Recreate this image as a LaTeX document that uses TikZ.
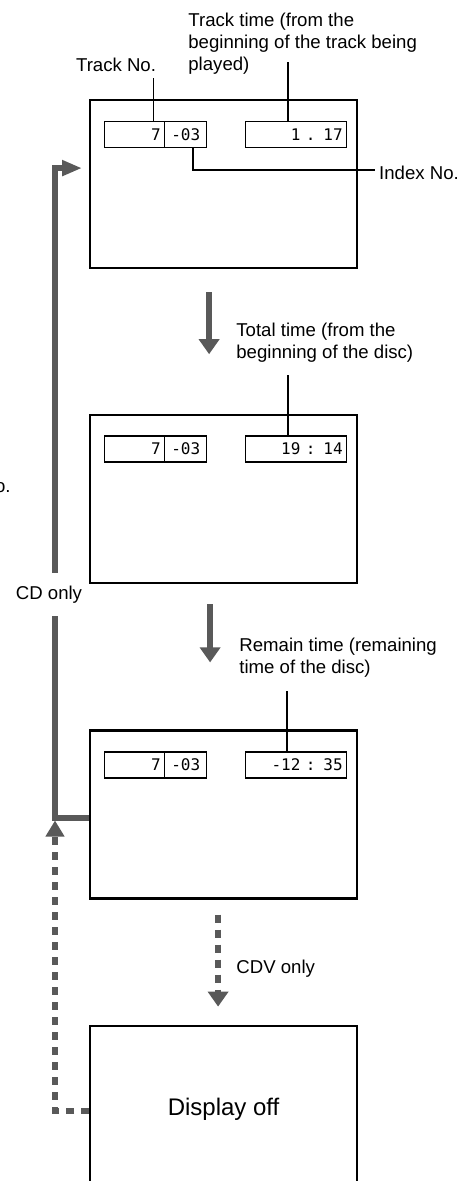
\documentclass[tikz,border=0pt]{standalone}
\usepackage{fontspec}
\setmainfont{Liberation Sans}
\newfontfamily\lcdfont{DejaVu Sans Mono}
\usetikzlibrary{arrows.meta,positioning}

\begin{document}
\begin{tikzpicture}[x=1pt, y=1pt,
  screen/.style={draw, line width=1.1pt, minimum width=133.5pt, minimum height=84pt, inner sep=0pt, font=\fontsize{12}{14}\selectfont},
  lcd/.style={draw, line width=0.7pt, minimum height=13pt, inner xsep=2pt, inner ysep=0pt, font=\lcdfont\fontsize{8}{9}\selectfont},
  note/.style={font=\fontsize{9.3}{11}\selectfont, align=left, inner sep=0pt},
  lead/.style={line width=0.9pt},
  flow/.style={line width=3pt, black!65, -{Triangle[length=7.5pt, width=10pt]}},
  dflow/.style={flow, dash pattern=on 4pt off 3.5pt},
  back/.style={line width=3pt, black!65, -{Triangle[length=10pt, width=7.5pt]}},
  dback/.style={line width=3pt, black!65, dash pattern=on 4pt off 3.5pt, -{Triangle[length=8pt, width=9pt]}}
]
\useasboundingbox (0,0) rectangle (230.5,-590.5);
\clip (0,0) rectangle (230.5,-590.5);

% the four screens
\node[screen, anchor=north west] (s1) at (44.5,-49.5) {};
\node[screen, below=72.5pt of s1] (s2) {};
\node[screen, below=72.5pt of s2] (s3) {};
\node[screen, below=62.5pt of s3] (s4) {Display off};

% display fields
\node[lcd, text width=26pt, align=right, anchor=north west] (trk1) at ([shift={(7.5,-11)}]s1.north west) {7};
\node[lcd, text width=17pt, align=center, right=-0.7pt of trk1] (idx1) {-03};
\node[lcd, text width=46.5pt, align=right, anchor=north west] (tim1) at ([shift={(78,-11)}]s1.north west) {1 . 17};
\node[lcd, text width=26pt, align=right, anchor=north west] (trk2) at ([shift={(7.5,-10.5)}]s2.north west) {7};
\node[lcd, text width=17pt, align=center, right=-0.7pt of trk2] (idx2) {-03};
\node[lcd, text width=46.5pt, align=right, anchor=north west] (tim2) at ([shift={(78,-10.5)}]s2.north west) {19 : 14};
\node[lcd, text width=26pt, align=right, anchor=north west] (trk3) at ([shift={(7.5,-11)}]s3.north west) {7};
\node[lcd, text width=17pt, align=center, right=-0.7pt of trk3] (idx3) {-03};
\node[lcd, text width=46.5pt, align=right, anchor=north west] (tim3) at ([shift={(78,-11)}]s3.north west) {-12 : 35};

% labels
\node[note, anchor=base east] (trkno) at ([shift={(-4.5,24.5)}]trk1.north east) {Track No.};
\node[note, anchor=north west] (trktime) at ([shift={(49.5,43)}]s1.north west) {Track time (from the\\ beginning of the track being\\ played)};
\node[note, anchor=west] (idxno) at ([shift={(10.3,-37)}]s1.north east) {Index No.};
\node[note, anchor=north west] (tottime) at ([shift={(73.5,46)}]s2.north west) {Total time (from the\\ beginning of the disc)};
\node[note, anchor=north west] (remtime) at ([shift={(75,46)}]s3.north west) {Remain time (remaining\\ time of the disc)};
\node[note, anchor=north west] (cdv) at ([shift={(73.5,32.5)}]s4.north west) {CDV only};
\node[note, anchor=base east] (stray) at (5.5,-246.3) {No.};

% leader lines
\coordinate (trkl) at ([xshift=-6pt]trk1.north east);
\draw[lead, shorten >=2.5pt] (trkl) -- (trkl |- trkno.south);
\coordinate (tt1) at ([xshift=-4.25pt]tim1.north);
\draw[lead] (tt1) -- ([yshift=29.5pt]tt1);
\coordinate (idxl) at ([xshift=3.5pt]idx1.south);
\draw[lead, shorten >=2pt] (idxl) |- ([yshift=1.5pt]idxno.west);
\coordinate (tt2) at ([xshift=-4.25pt]tim2.north);
\draw[lead] (tt2) -- ([yshift=30pt]tt2);
\coordinate (tt3) at ([xshift=-4.5pt]tim3.north);
\draw[lead] (tt3) -- ([yshift=30pt]tt3);

% step arrows
\draw[flow, shorten <=11.5pt, shorten >=30pt] ([xshift=-7.25pt]s1.south) -- ([xshift=-7.25pt]s2.north);
\draw[flow, shorten <=10pt, shorten >=33.5pt] ([xshift=-6.75pt]s2.south) -- ([xshift=-6.75pt]s3.north);
\draw[dflow, shorten <=7.5pt, shorten >=9pt] ([xshift=-2.75pt]s3.south) -- ([xshift=-2.75pt]s4.north);

% return paths
\draw[back, shorten >=3.5pt] ([yshift=-1.5pt]s3.west) -| ([xshift=-17pt,yshift=8pt]s1.west) -- ([yshift=8pt]s1.west);
\node[note, fill=white, inner xsep=1pt, inner ysep=6.5pt] (cdonly) at ([shift={(-20,-5)}]s2.south west) {CD only};
\draw[dback] ([yshift=-0.5pt]s4.west) -| ([xshift=-17pt,yshift=-3pt]s3.west);
\end{tikzpicture}
\end{document}
